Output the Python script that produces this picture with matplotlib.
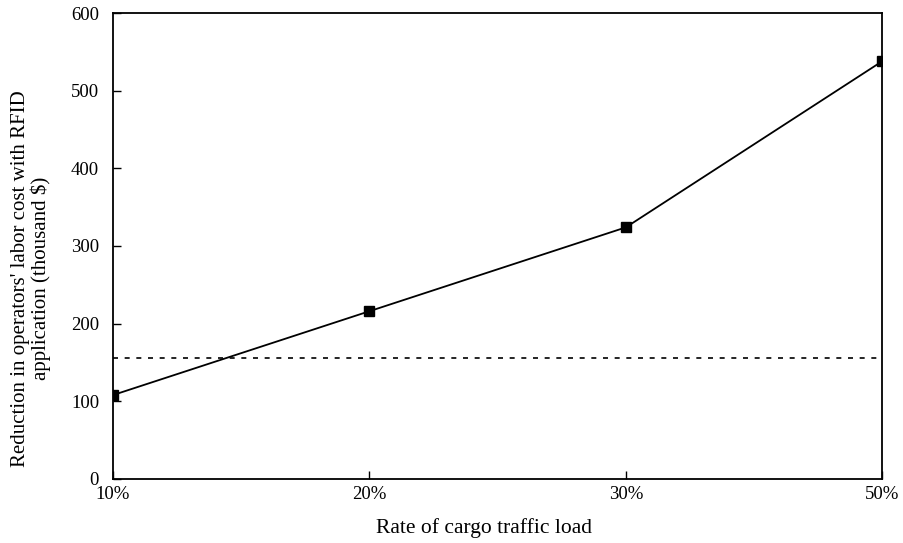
import matplotlib.pyplot as plt

plt.rcParams['font.family'] = 'Liberation Serif'

rates = ['10%', '20%', '30%', '50%']
reduction = [108, 216, 324, 538]
baseline = 156

fig = plt.figure(figsize=(9.04, 5.43), dpi=100)
ax = fig.add_axes([0.125, 0.118, 0.851, 0.858])

x = range(len(rates))
ax.plot(x, reduction, color='black', lw=1.3, marker='s', markersize=6.5)
ax.axhline(baseline, color='black', lw=1.2, linestyle=(0, (3, 4)))

ax.set_xlim(0, len(rates) - 1)
ax.set_ylim(0, 600)
ax.set_xticks(list(x))
ax.set_xticklabels(rates)
ax.set_yticks(range(0, 601, 100))
ax.tick_params(direction='in', length=6, width=1, labelsize=13.5)
ax.tick_params(axis='y', pad=10)
ax.tick_params(axis='x', pad=5)
for s in ax.spines.values():
    s.set_linewidth(1.3)

ax.set_xlabel('Rate of cargo traffic load', fontsize=15.5)
ax.xaxis.set_label_coords(0.482, -0.083)
ax.set_ylabel("Reduction in operators' labor cost with RFID\napplication (thousand $)",
              fontsize=15, linespacing=1.05)
ax.yaxis.set_label_coords(-0.08, 0.43)

fig.savefig('out.png', dpi=100)
